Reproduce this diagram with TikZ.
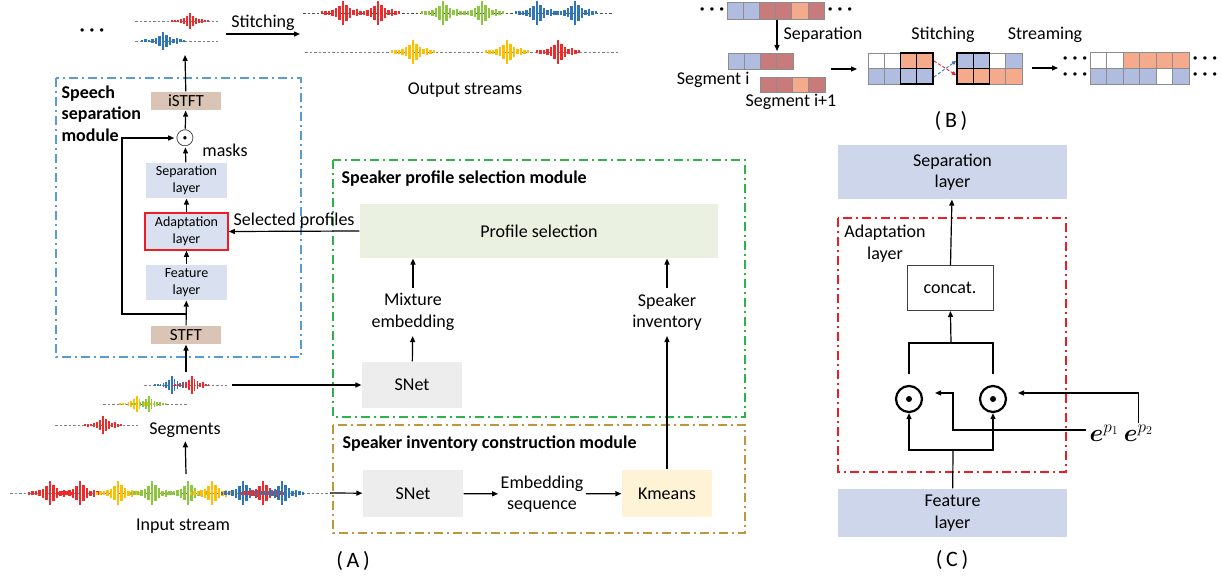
\documentclass[tikz,border=0pt]{standalone}
\usepackage{amsmath,bm}
\usepackage{fontspec}
\setmainfont{Carlito}
\usetikzlibrary{arrows.meta,calc}
\definecolor{frblue}{HTML}{5B9BD5}
\definecolor{frgreen}{HTML}{2EB34A}
\definecolor{frgold}{HTML}{C0963A}
\definecolor{frred}{HTML}{EE1C24}
\definecolor{lblue}{HTML}{D9E0F0}
\definecolor{cblue}{HTML}{CDD6EB}
\definecolor{tanc}{HTML}{D9C4B5}
\definecolor{lgreen}{HTML}{EAF1E0}
\definecolor{lgrey}{HTML}{EDEDED}
\definecolor{lyellow}{HTML}{FFF3D6}
\definecolor{wred}{HTML}{EE2B2B}
\definecolor{wgreen}{HTML}{8DC63F}
\definecolor{wblue}{HTML}{2F75B8}
\definecolor{wyellow}{HTML}{FFBF00}
\definecolor{cb}{HTML}{B0BCE0}
\definecolor{cr}{HTML}{C97B7B}
\definecolor{cs}{HTML}{F5AA8C}
\newcommand\burst[5]{%
  \begin{scope}[shift={(#1,#2)},xscale=#4,yscale=#5]
    \foreach \dx/\h in {-20/1.5,-16.5/2,-13/1.8,-9.5/3,-6/4.5,-2.5/7,1/12,4.5/8,8/5,11.5/2.5,15/3.5,18.5/2,22/1.5}
      \fill[#3] (\dx-1.1,-\h) rectangle (\dx+1.1,\h);
  \end{scope}}
\newcommand\cellrow[5]{%
  \foreach \c [count=\i from 0] in {#5}
    \filldraw[fill=\c, draw=black!45, line width=0.8pt] ({#1+\i*#3},#2) rectangle ++(#3,#4);}
\newcommand\mydots{\textbf{·\hspace{5pt}·\hspace{5pt}·}}
\begin{document}
\begin{tikzpicture}[x=1pt,y=-1pt, line width=1.2pt,
  >={Triangle[length=6pt,width=5pt]},
  every node/.style={font=\fontsize{18}{21.5}\selectfont},
  flow/.style={->, line width=1.2pt},
  wline/.style={dash pattern=on 2.5pt off 2pt, line width=0.9pt, gray},
  ddot/.style={line width=1.6pt, dash pattern=on 9pt off 4pt on 2pt off 4pt},
  lbox/.style={fill=lblue, inner sep=0pt, align=center, font=\fontsize{14}{17}\selectfont},
  tanbox/.style={fill=tanc, inner sep=0pt, minimum width=70pt, minimum height=18pt, font=\fontsize{17}{20}\selectfont},
  cbox/.style={fill=cblue, inner sep=0pt, align=center, minimum width=229pt},
  lab/.style={align=center, inner sep=5pt},
  bold/.style={font=\fontsize{18}{21.5}\selectfont\bfseries}]
\useasboundingbox (0,0) rectangle (1222,578);

% ---------- top-left output ----------
\node (dl) at (92,32) {\mydots};
\draw[wline] (135,21) -- (218,21);
\burst{189}{21}{wred}{0.85}{0.65}
\draw[wline] (135,41) -- (218,41);
\burst{162}{41}{wblue}{1}{0.75}
\coordinate (wtop) at (185,55);
\coordinate (st1) at (226,34);
\coordinate (st2) at (300,34);
\draw[flow] (st1) -- node[above, inner sep=3pt] (stl) {Stitching} (st2);

\draw[wline, black!70] (303,13) -- (612,13);
\burst{342}{13}{wred}{1}{1}
\burst{377}{13}{wred}{1}{1}
\burst{442}{13}{wgreen}{1}{1}
\burst{481}{13}{wgreen}{1}{1}
\burst{536}{13}{wblue}{1}{1}
\burst{574}{13}{wblue}{1}{1}
\draw[wline] (305,52) -- (620,52);
\burst{412}{52}{wyellow}{1}{1}
\burst{506}{52}{wyellow}{1}{1}
\burst{557}{52}{wred}{1}{1}
\node (outs) at (465,90) {Output streams};

% ---------- speech separation module ----------
\draw[ddot, frblue] (56,78) rectangle (301,357);
\node[bold, align=left, anchor=north west, inner sep=0pt] (ssm) at (61,85) {Speech\\separation\\module};
\node[tanbox] (istft) at (186,101) {iSTFT};
\node[inner sep=0.5pt, font=\fontsize{24}{26}\selectfont] (odot) at (185,138) {$\odot$};
\node (masks) at (225,150) {masks};
\node[lbox, minimum width=81pt, minimum height=35pt] (sepL) at (186.5,180.5) {Separation\\layer};
\node[lbox, minimum width=83pt, minimum height=37pt, draw=frred, line width=1.6pt] (adaptL) at (186.5,231.5) {Adaptation\\layer};
\node[lbox, minimum width=81pt, minimum height=35pt] (featL) at (186.5,282.5) {Feature\\layer};
\node[tanbox] (stft) at (186,335) {STFT};
\coordinate (fb) at (186,314);
\draw[flow] (stft) -- (featL);
\draw[flow] (featL) -- (adaptL);
\draw[flow] (adaptL) -- (sepL);
\draw[flow] (sepL) -- (odot);
\draw[flow] (odot) -- (istft);
\draw[flow] (istft) -- (wtop);
\draw[flow] (fb) -- ++(-64,0) |- (odot.west);

% ---------- segments & input ----------
\draw[wline] (144,385) -- (227,385);
\burst{171}{385}{wblue}{0.8}{0.72}
\burst{191}{385}{wred}{0.8}{0.72}
\draw[wline] (103,404) -- (187,404);
\burst{136}{404}{wyellow}{0.8}{0.65}
\burst{148}{404}{wgreen}{0.8}{0.65}
\draw[wline] (55,425) -- (138,425);
\burst{102}{425}{wred}{0.85}{0.75}
\node (segs) at (185,430) {Segments};
\coordinate (seg3bot) at (186,372);
\draw[flow] (seg3bot) -- (stft);
\coordinate (seg3end) at (232,385);

\draw[wline] (10,493) -- (330,493);
\burst{49}{493}{wred}{1}{1}
\burst{79}{493}{wred}{1}{1}
\burst{117}{493}{wyellow}{1}{1}
\burst{151}{493}{wgreen}{1}{1}
\burst{187}{493}{wgreen}{1}{1}
\burst{211}{493}{wyellow}{1}{1}
\burst{242}{493}{wblue}{1}{1}
\burst{262}{493}{wred}{1}{1}
\burst{281}{493}{wblue}{1}{1}
\node (ins) at (183,526) {Input stream};
\coordinate (inup) at (186,474);
\draw[flow] (inup) -- (segs);
\coordinate (inend) at (330,493);

% ---------- speaker profile selection module ----------
\draw[ddot, frgreen] (333,160) rectangle (745,417);
\node[bold, anchor=west, inner sep=0pt] (spsm) at (341,179) {Speaker profile selection module};
\node[fill=lgreen, minimum width=358pt, minimum height=54pt, inner sep=0pt] (profsel) at (539,231) {Profile selection};
\node[lab] (mixemb) at (413,312) {Mixture\\embedding};
\node[lab] (spkinv) at (667,312) {Speaker\\inventory};
\node[fill=lgrey, minimum width=100pt, minimum height=46pt, inner sep=0pt] (snet1) at (412,385) {SNet};
\draw[flow] (snet1) -- (mixemb);
\draw[flow] (mixemb) -- (mixemb |- profsel.south);
\draw[flow] (spkinv) -- (spkinv |- profsel.south);
\draw[flow] (seg3end) -- (snet1);
\draw[flow] (profsel.west) -- node[above, inner sep=2pt] (selp) {Selected profiles} (adaptL.east);

% ---------- speaker inventory construction module ----------
\draw[ddot, frgold] (333,425) rectangle (745,533);
\node[bold, anchor=west, inner sep=0pt] (sicm) at (342,444) {Speaker inventory construction module};
\node[fill=lgrey, minimum width=100pt, minimum height=47pt, inner sep=0pt] (snet2) at (413,493.5) {SNet};
\node[lab, inner sep=2pt] (embseq) at (542,494) {Embedding\\sequence};
\node[fill=lyellow, minimum width=90pt, minimum height=47pt, inner sep=0pt] (kmeans) at (667,493.5) {Kmeans};
\draw[flow] (inend) -- (snet2);
\draw[flow] (snet2) -- (embseq);
\draw[flow] (embseq) -- (kmeans);
\draw[flow] (kmeans) -- (spkinv);
\node[font=\fontsize{22}{26}\selectfont] (labA) at (353,561) {(\,A\,)};

% ---------- (B) ----------
\node (bd1) at (712,11) {\mydots};
\cellrow{727}{2}{16.2}{17}{cb,cb,cr,cr,cs,cr}
\node (bd2) at (840,11) {\mydots};
\coordinate (sepA) at (777,20);
\coordinate (sepB) at (777,51);
\draw[flow] (sepA) -- (sepB);
\node (sepT) at (823,35) {Separation};
\cellrow{728}{53}{16.25}{16}{cb,cb,cr,cr}
\node[anchor=east, inner sep=0pt] (segi) at (750,80) {Segment i};
\cellrow{760}{77}{16.25}{15.5}{cr,cr,cs,cr}
\node (segi1) at (791,102) {Segment i+1};
\coordinate (b1) at (831,69);
\coordinate (b2) at (857,69);
\draw[flow] (b1) -- (b2);
\node (stB) at (943,35) {Stitching};
\cellrow{868}{53}{16.25}{15.5}{white,white,cs,cs}
\cellrow{868}{68.5}{16.25}{15.5}{cb,cb,cb,cb}
\draw[line width=1.4pt] (900.5,53) rectangle (933,84) (916.75,53) -- (916.75,84) (900.5,68.5) -- (933,68.5);
\cellrow{957}{53}{16.25}{15.5}{cb,cb,white,cb}
\cellrow{957}{68.5}{16.25}{15.5}{cs,cs,cs,cs}
\draw[line width=1.4pt] (957,53) rectangle (989.5,84) (973.25,53) -- (973.25,84) (957,68.5) -- (989.5,68.5);
\coordinate (x1) at (934,61);
\coordinate (x2) at (956,75);
\coordinate (x3) at (934,77);
\coordinate (x4) at (956,61);
\draw[->, >={Triangle[length=4pt,width=4pt]}, frred, dashed, dash pattern=on 3pt off 2pt, line width=0.9pt] (x1) -- (x2);
\draw[->, >={Triangle[length=4pt,width=4pt]}, wblue, dashed, dash pattern=on 3pt off 2pt, line width=0.9pt] (x3) -- (x4);
\node (strB) at (1045,35) {Streaming};
\coordinate (b3) at (1032,68);
\coordinate (b4) at (1058,68);
\draw[flow] (b3) -- (b4);
\cellrow{1090}{52}{16.5}{16}{white,white,cs,cs,cs,cs}
\cellrow{1090}{68}{16.5}{16}{cb,cb,cb,cb,white,cb}
\node (od1) at (1075,60) {\mydots};
\node (od2) at (1075,76) {\mydots};
\node (od3) at (1205,60) {\mydots};
\node (od4) at (1205,76) {\mydots};
\node[font=\fontsize{22}{26}\selectfont] (labB) at (951,121) {(\,B\,)};

% ---------- (C) ----------
\node[cbox, minimum height=54pt] (sepC) at (952.5,172) {Separation\\layer};
\draw[ddot, frred] (838,218) rectangle (1066,472);
\node[align=center, inner sep=0pt, font=\fontsize{18}{22}\selectfont] (adC) at (885,244) {Adaptation\\layer};
\node[draw=black!75, line width=1pt, fill=white, minimum width=86pt, minimum height=45pt, inner sep=0pt] (concat) at (950,288) {concat.};
\draw[flow] (concat) -- (sepC);
\coordinate (fk) at (951,343);
\coordinate (c1t) at (909,374);
\coordinate (c2t) at (993,374);
\draw (c1t) |- (fk) -| (c2t);
\draw[flow] (fk) -- (concat);
\node[circle, draw, line width=2.2pt, minimum size=26pt, inner sep=0pt] (c1) at (909,399) {};
\node[circle, draw, line width=2.2pt, minimum size=26pt, inner sep=0pt] (c2) at (993,399) {};
\fill (c1) circle (3);
\fill (c2) circle (3);
\node[cbox, minimum height=48pt] (featC) at (952.5,513) {Feature\\layer};
\coordinate (fj) at (953,450);
\draw (featC) -- (fj);
\draw[flow] (fj) -| (c1);
\draw[flow] (fj) -| (c2);
\node[anchor=west, inner sep=1pt, font=\fontsize{24}{28}\selectfont] (ep1) at (1088,433) {$\bm{e}^{p_1}$};
\node[anchor=west, inner sep=1pt, font=\fontsize{24}{28}\selectfont] (ep2) at ($(ep1.east)+(2,0)$) {$\bm{e}^{p_2}$};
\coordinate (a1) at (935,393);
\coordinate (a2) at (1018,393);
\draw[flow] ($(ep1.west)+(-2,-3)$) -| (953,393) -- (a1);
\draw[flow] (ep2.north) |- (a2);
\node[font=\fontsize{22}{26}\selectfont] (labC) at (952,560) {(\,C\,)};
\end{tikzpicture}
\end{document}
